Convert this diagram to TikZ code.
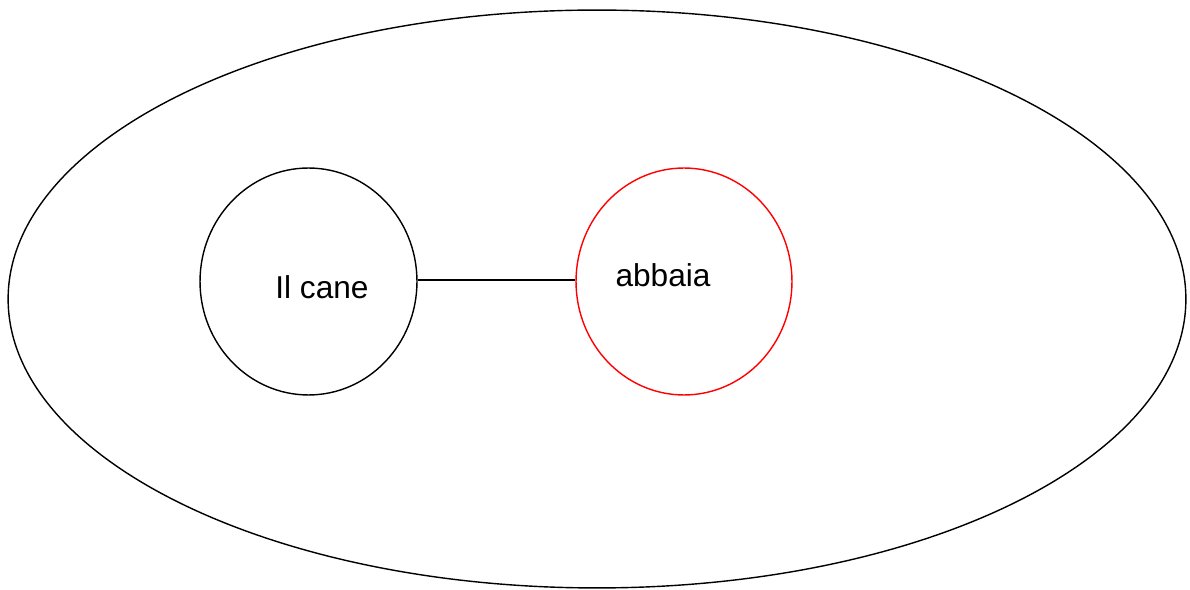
\documentclass[tikz,border=0pt]{standalone}
\usepackage{fontspec}
\setmainfont{Liberation Sans}
\usepackage{xcolor}
\usetikzlibrary{shapes.geometric}
\definecolor{verbred}{RGB}{255, 0, 0}
\tikzset{
  blob/.style={draw, ellipse, inner sep=0pt, line width=0.8pt},
  wordtext/.style={font=\fontsize{18}{22}\selectfont, inner sep=0pt}
}

\begin{document}
\begin{tikzpicture}[x=0.02cm, y=-0.02cm]
        \useasboundingbox (0,0) rectangle (1190,590);

        % Sentence
        \node[blob, minimum width=23.56cm, minimum height=11.56cm] (frase) at (597,299) {};

        % Subject
        \node[blob, minimum width=4.34cm, minimum height=4.54cm] (soggetto) at (308.5,281.5) {};
        \node[wordtext] (ilcane) at (322,287) {Il cane};

        % Predicate
        \node[blob, draw=verbred, minimum width=4.32cm, minimum height=4.54cm] (predicato) at (684,281.5) {};
        \node[wordtext] (abbaia) at (663,275) {abbaia};

        % Link
        \draw[line width=0.8pt] (soggetto.east |- 0,280) -- (predicato.west |- 0,280);
    \end{tikzpicture}
\end{document}
